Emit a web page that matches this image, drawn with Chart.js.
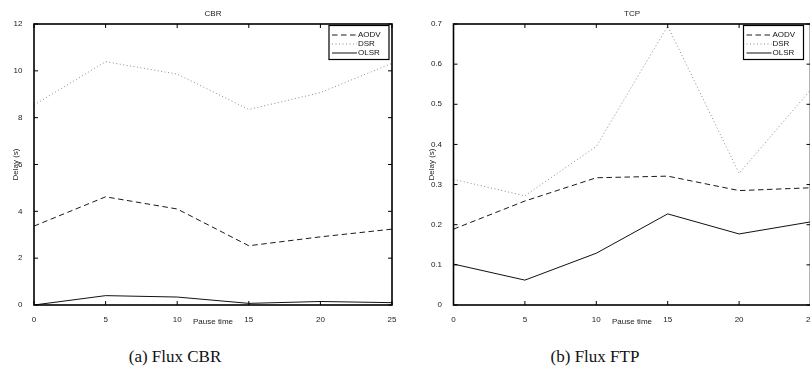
<!DOCTYPE html>
<html>
<head>
<meta charset="utf-8">
<script src="https://cdn.jsdelivr.net/npm/chart.js@4.4.1/dist/chart.umd.min.js"></script>
<style>
  html, body { margin: 0; padding: 0; background: #fff; overflow: hidden; width: 810px; height: 383px; }
  .panel { position: absolute; top: 0; height: 330px; }
  #panel-cbr { left: 0; width: 400px; }
  #panel-tcp { left: 410px; width: 420px; }
  .caption { position: absolute; top: 347px; width: 240px; text-align: center;
             font: 17px 'Liberation Serif', 'DejaVu Serif', serif; color: #111; }
</style>
</head>
<body>
<div class="panel" id="panel-cbr"><canvas id="chart-cbr"></canvas></div>
<div class="panel" id="panel-tcp"><canvas id="chart-tcp"></canvas></div>
<div class="caption" style="left:55px">(a) Flux CBR</div>
<div class="caption" style="left:475px">(b) Flux FTP</div>

<script>
// data
const PAUSE_TIME  = [0, 5, 10, 15, 20, 25];
const X_TICKS     = [0, 5, 10, 15, 20, 25];
const SERIES      = ['AODV', 'DSR', 'OLSR'];

const CBR_AODV = [3.37, 4.62, 4.10, 2.53, 2.91, 3.24];
const CBR_DSR  = [8.54, 10.39, 9.86, 8.35, 9.07, 10.32];
const CBR_OLSR = [0.00, 0.40, 0.34, 0.07, 0.15, 0.10];
const CBR_Y_TICKS = [0, 2, 4, 6, 8, 10, 12];

const TCP_AODV = [0.189, 0.259, 0.317, 0.321, 0.285, 0.292];
const TCP_DSR  = [0.313, 0.272, 0.395, 0.695, 0.328, 0.536];
const TCP_OLSR = [0.102, 0.062, 0.129, 0.227, 0.177, 0.207];
const TCP_Y_TICKS = [0, 0.1, 0.2, 0.3, 0.4, 0.5, 0.6, 0.7];

const FONT = "'Liberation Sans', Arial, sans-serif";

// MATLAB-ish styles: dashed / dotted / solid
const LINE_STYLES = [
  { borderColor: '#1a1a1a', borderDash: [5.5, 3.5] },
  { borderColor: '#8a8a8a', borderDash: [1, 2.5] },
  { borderColor: '#111111', borderDash: [] },
];

// box, inward ticks and legend, drawn after the lines
const matlabFrame = {
  id: 'matlabFrame',
  afterDatasetsDraw(chart, args, opts) {
    const { ctx, chartArea: a } = chart;
    const x = chart.scales.x, y = chart.scales.y;
    const TL = 4;
    ctx.save();

    ctx.strokeStyle = '#000';
    ctx.lineWidth = 1;
    ctx.beginPath();
    x.ticks.forEach(t => {
      const px = x.getPixelForValue(t.value);
      ctx.moveTo(px, a.bottom); ctx.lineTo(px, a.bottom - TL);
      ctx.moveTo(px, a.top);    ctx.lineTo(px, a.top + TL);
    });
    y.ticks.forEach(t => {
      const py = y.getPixelForValue(t.value);
      ctx.moveTo(a.left, py);  ctx.lineTo(a.left + TL, py);
      ctx.moveTo(a.right, py); ctx.lineTo(a.right - TL, py);
    });
    ctx.stroke();

    ctx.lineWidth = 1.6;
    ctx.strokeRect(a.left, a.top, a.right - a.left, a.bottom - a.top);

    // legend box
    const bw = 60, bh = 34;
    const bx = a.right - opts.inset - bw, by = a.top + 1.5;
    ctx.fillStyle = '#fff';
    ctx.fillRect(bx, by, bw, bh);
    ctx.lineWidth = 1.2;
    ctx.strokeRect(bx, by, bw, bh);

    ctx.font = '8px ' + FONT;
    ctx.textBaseline = 'middle';
    chart.data.datasets.forEach((ds, i) => {
      const ry = by + 9.5 + i * 9;
      ctx.beginPath();
      ctx.lineWidth = 1;
      ctx.strokeStyle = ds.borderColor;
      ctx.setLineDash(ds.borderDash);
      ctx.moveTo(bx + 3, ry);
      ctx.lineTo(bx + 28, ry);
      ctx.stroke();
      ctx.setLineDash([]);
      ctx.fillStyle = '#111';
      ctx.fillText(ds.label, bx + 29, ry);
    });

    ctx.restore();
  }
};

function makeChart(canvasId, title, seriesValues, yTicks, geo) {
  const datasets = seriesValues.map((vals, i) => ({
    label: SERIES[i],
    data: PAUSE_TIME.map((t, k) => ({ x: t, y: vals[k] })),
    borderWidth: 1,
    pointRadius: 0,
    tension: 0,
    fill: false,
    ...LINE_STYLES[i],
  }));

  const tickFont = { family: FONT, size: 8 };

  return new Chart(document.getElementById(canvasId), {
    type: 'line',
    data: { datasets },
    options: {
      responsive: true,
      maintainAspectRatio: false,
      animation: false,
      layout: { padding: { left: 0, right: geo.padRight, top: 0, bottom: 0 } },
      plugins: {
        legend: { display: false },
        tooltip: { enabled: false },
        title: { display: false },
        matlabFrame: { inset: geo.legendInset },
      },
      scales: {
        x: {
          type: 'linear',
          min: 0, max: 25,
          afterBuildTicks: s => { s.ticks = X_TICKS.map(v => ({ value: v })); },
          afterFit: s => { s.height = 25; },
          grid: { display: false },
          border: { display: false },
          ticks: { color: '#222', font: tickFont, padding: 2, maxRotation: 0, autoSkip: false },
          title: { display: true, text: 'Pause time', color: '#222', font: tickFont, padding: { top: 0, bottom: 3.2 } },
        },
        top: {
          type: 'linear',
          position: 'top',
          min: 0, max: 25,
          afterFit: s => { s.height = 24; },
          grid: { display: false },
          border: { display: false },
          ticks: { display: false },
          title: { display: true, text: title, color: '#222', font: tickFont, padding: { top: 9.4, bottom: 0 } },
        },
        y: {
          type: 'linear',
          min: yTicks[0], max: yTicks[yTicks.length - 1],
          afterBuildTicks: s => { s.ticks = yTicks.map(v => ({ value: v })); },
          afterFit: s => { s.width = geo.yWidth; },
          grid: { display: false },
          border: { display: false },
          ticks: { color: '#222', font: tickFont, padding: 3.5, autoSkip: false, callback: v => String(v) },
          title: { display: true, text: 'Delay (s)', color: '#222', font: tickFont, padding: { top: geo.yTitlePad, bottom: 0 } },
        },
      },
    },
    plugins: [matlabFrame],
  });
}

makeChart('chart-cbr', 'CBR', [CBR_AODV, CBR_DSR, CBR_OLSR], CBR_Y_TICKS,
  { yWidth: 34, padRight: 8, yTitlePad: 10.5, legendInset: 3 });
makeChart('chart-tcp', 'TCP', [TCP_AODV, TCP_DSR, TCP_OLSR], TCP_Y_TICKS,
  { yWidth: 43.5, padRight: 19.5, yTitlePad: 17, legendInset: 7 });
</script>
</body>
</html>
